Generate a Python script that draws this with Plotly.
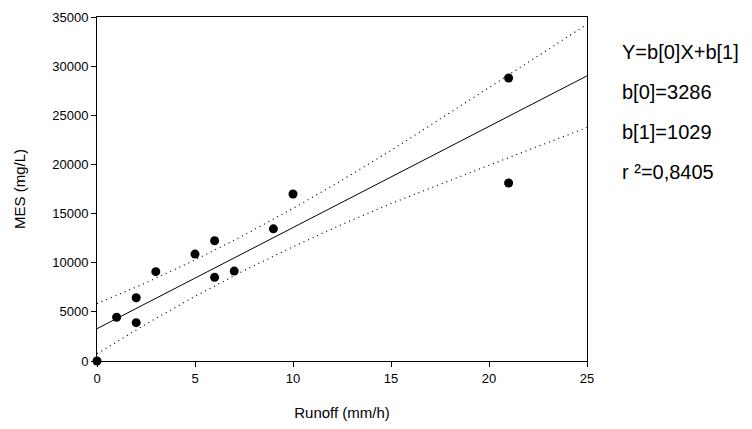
import plotly.graph_objects as go

# Observed data
runoff = [0, 1, 2, 2, 3, 5, 6, 6, 7, 9, 10, 21, 21]
mes = [0, 4450, 6440, 3900, 9090, 10880, 12240, 8510, 9150, 13450, 16990, 18110, 28790]

# Regression line (Y = b[0] + b[1] X) endpoints
fit_x = [0, 25]
fit_y = [3286, 29011]

# 95% confidence band
band_x = [0, 2.5, 5, 7.5, 10, 12.5, 15, 17.5, 20, 22.5, 25]
band_upper = [5836, 7959, 10281, 12804, 15526, 18399, 21421, 24594, 27816, 31039, 34261]
band_lower = [736, 3759, 6581, 9204, 11626, 13899, 16021, 17994, 19916, 21839, 23761]

x_ticks = [0, 5, 10, 15, 20, 25]
y_ticks = [0, 5000, 10000, 15000, 20000, 25000, 30000, 35000]

eq_lines = ["Y=b[0]X+b[1]", "b[0]=3286", "b[1]=1029", "r \u00b2=0,8405"]

FONT = "Liberation Sans, Arial, sans-serif"

# page body adds an 8px offset; compensate so the plot lands where the reference has it
OFF = 8
fig = go.Figure()
fig.add_trace(go.Scatter(x=band_x, y=band_upper, mode="lines",
                         line=dict(color="black", width=1.2, dash="1px,4px"),
                         hoverinfo="skip", showlegend=False))
fig.add_trace(go.Scatter(x=band_x, y=band_lower, mode="lines",
                         line=dict(color="black", width=1.2, dash="1px,4px"),
                         hoverinfo="skip", showlegend=False))
fig.add_trace(go.Scatter(x=fit_x, y=fit_y, mode="lines",
                         line=dict(color="black", width=1),
                         showlegend=False))
fig.add_trace(go.Scatter(x=runoff, y=mes, mode="markers",
                         marker=dict(color="black", size=9),
                         cliponaxis=False, showlegend=False))

for i, t in enumerate(eq_lines):
    fig.add_annotation(text=t, xref="paper", yref="paper",
                       x=(620 - 97) / 490, y=(361 - (52 + 40 * i)) / 344,
                       xanchor="left", yanchor="middle", showarrow=False,
                       font=dict(family=FONT, size=20, color="black"))

fig.update_layout(
    width=752 - OFF, height=429 - OFF,
    margin=dict(l=97 - OFF, r=165, t=17 - OFF, b=68, pad=0, autoexpand=False),
    plot_bgcolor="white", paper_bgcolor="white",
    font=dict(family=FONT, color="black"),
)
fig.update_xaxes(range=[0, 25], tickvals=x_ticks, ticktext=[str(v) for v in x_ticks],
                 showgrid=False, zeroline=False, showline=True, linecolor="black",
                 linewidth=1, mirror=True, ticks="outside", ticklen=5,
                 tickcolor="black", tickfont=dict(size=13, family=FONT),
                 automargin=False,
                 title=dict(text="Runoff (mm/h)", font=dict(size=15, family=FONT),
                            standoff=22))
fig.update_yaxes(range=[0, 35000], tickvals=y_ticks, ticktext=[str(v) for v in y_ticks],
                 showgrid=False, zeroline=False, showline=True, linecolor="black",
                 linewidth=1, mirror=True, ticks="outside", ticklen=5,
                 tickcolor="black", tickfont=dict(size=13, family=FONT),
                 automargin=False,
                 title=dict(text="MES (mg/L)", font=dict(size=15, family=FONT),
                            standoff=22))

fig.write_html("out.html")
